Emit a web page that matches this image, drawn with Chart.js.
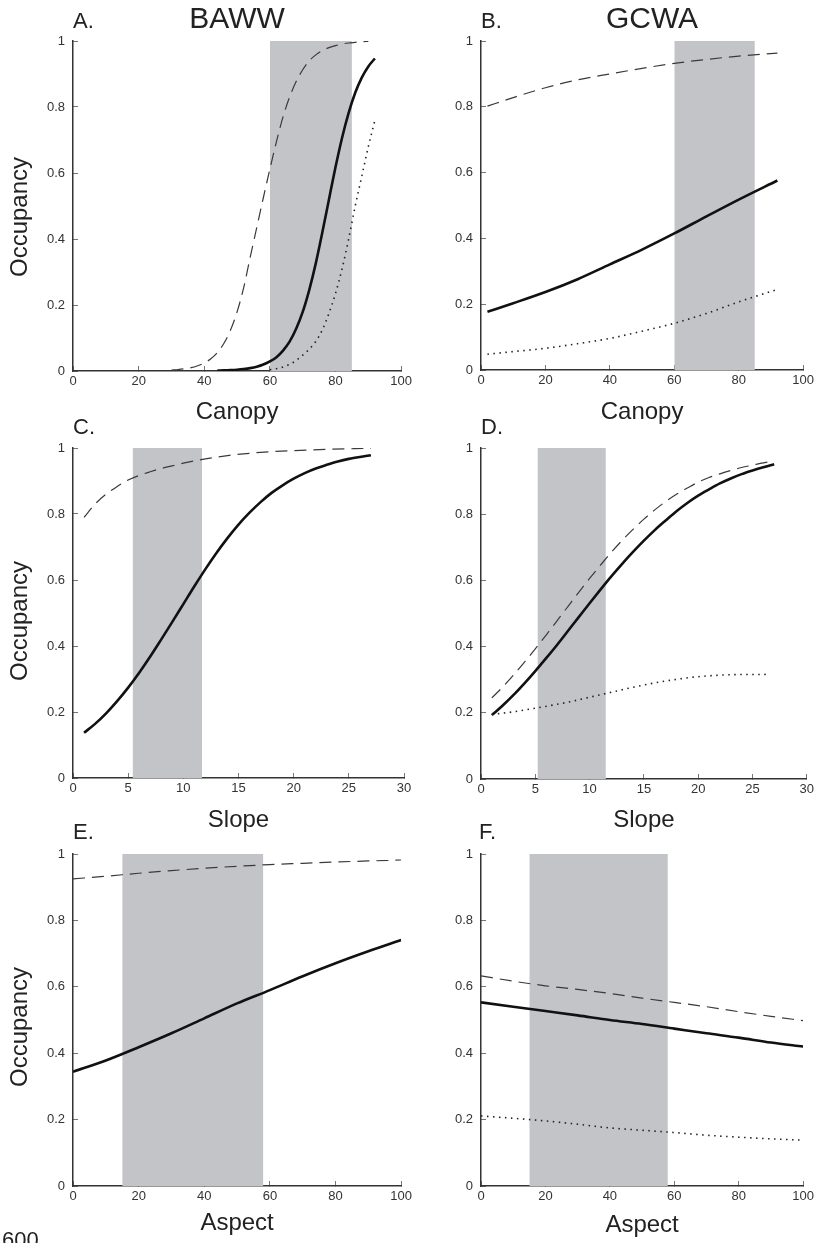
<!DOCTYPE html>
<html><head><meta charset="utf-8">
<script src="https://cdn.jsdelivr.net/npm/chart.js@4.4.1/dist/chart.umd.min.js"></script>
<style>
html,body{margin:0;padding:0;background:#fff}
body{width:822px;height:1243px;overflow:hidden;position:relative;font-family:"Liberation Sans",Arial,Helvetica,sans-serif;color:#222}
canvas{position:absolute}
.lab{position:absolute;line-height:1;white-space:nowrap}
</style></head><body>
<script>
// ---------- tick labels ----------
const occTicks = [0, 0.2, 0.4, 0.6, 0.8, 1];
const occLabels = ['0', '0.2', '0.4', '0.6', '0.8', '1'];
const pctTicks = [0, 20, 40, 60, 80, 100];
const pctLabels = ['0', '20', '40', '60', '80', '100'];
const slopeTicks = [0, 5, 10, 15, 20, 25, 30];
const slopeLabels = ['0', '5', '10', '15', '20', '25', '30'];

// ---------- A. BAWW vs Canopy ----------
const aSolidX = [44,46,48,50,52,54,56,58,60,62,64,66,68,70,72,74,76,78,80,82,84,86,88,90,92];
const aSolid  = [0.0012,0.0018,0.0027,0.004,0.006,0.0088,0.013,0.0195,0.029,0.042,0.062,0.089,0.128,0.179,0.246,0.327,0.421,0.52,0.618,0.707,0.782,0.843,0.889,0.923,0.947];
const aDashX = [30,32,34,36,38,40,42,44,46,48,50,52,54,56,58,60,62,64,66,68,70,72,74,76,78,80,82,84,86,88,90];
const aDash  = [0.003,0.0044,0.0067,0.010,0.016,0.024,0.037,0.056,0.084,0.124,0.179,0.252,0.345,0.435,0.525,0.612,0.695,0.77,0.83,0.877,0.913,0.94,0.958,0.971,0.98,0.986,0.991,0.994,0.996,0.998,0.999];
const aDotX = [60,62,64,66,68,70,72,74,76,78,80,82,84,86,88,90,92];
const aDot  = [0.004,0.007,0.012,0.02,0.032,0.048,0.066,0.09,0.125,0.175,0.235,0.31,0.40,0.50,0.59,0.68,0.76];
const aShade = [60, 85];

// ---------- B. GCWA vs Canopy ----------
const bX = [2,10,20,30,40,50,60,70,80,92];
const bSolid = [0.177,0.203,0.237,0.276,0.321,0.366,0.415,0.467,0.518,0.576];
const bDash  = [0.802,0.828,0.858,0.882,0.90,0.917,0.932,0.944,0.954,0.963];
const bDot   = [0.048,0.056,0.066,0.08,0.096,0.118,0.142,0.172,0.207,0.245];
const bShade = [60, 85];

// ---------- C. BAWW vs Slope ----------
const cSolidX = [1,2,3,4,5,6,7,8,9,10,11,12,13,14,15,16,17,18,19,20,21,22,23,24,25,26,27];
const cSolid  = [0.137,0.164,0.196,0.233,0.274,0.319,0.368,0.42,0.473,0.527,0.581,0.633,0.682,0.727,0.768,0.804,0.836,0.864,0.887,0.907,0.924,0.938,0.949,0.959,0.967,0.973,0.978];
const cDashX = [1,2,3,4,5,6,7,8,9,10,12,14,16,18,20,23,27];
const cDash  = [0.79,0.83,0.86,0.883,0.903,0.917,0.928,0.938,0.946,0.954,0.967,0.977,0.984,0.989,0.992,0.996,0.999];
const cShade = [5.4, 11.7];

// ---------- D. GCWA vs Slope ----------
const dX = [1,2,3,4,5,6,7,8,9,10,11,12,13,14,15,16,17,18,19,20,21,22,23,24,25,26,27];
const dSolid = [0.193,0.222,0.254,0.289,0.326,0.365,0.405,0.447,0.489,0.531,0.572,0.612,0.65,0.686,0.72,0.752,0.781,0.809,0.834,0.856,0.875,0.893,0.908,0.921,0.932,0.942,0.951];
const dDash  = [0.245,0.278,0.314,0.353,0.393,0.435,0.478,0.521,0.564,0.606,0.646,0.685,0.721,0.754,0.785,0.813,0.838,0.86,0.879,0.897,0.911,0.922,0.932,0.941,0.948,0.955,0.961];
const dDotX = [1,3,5,8,10,12,15,18,20,23,26.5];
const dDot  = [0.195,0.203,0.214,0.232,0.247,0.262,0.284,0.301,0.309,0.315,0.316];
const dShade = [5.2, 11.5];

// ---------- E. BAWW vs Aspect ----------
const eX = [0,10,20,30,40,50,60,70,80,90,100];
const eSolid = [0.344,0.378,0.418,0.46,0.505,0.55,0.59,0.632,0.671,0.707,0.741];
const eDash  = [0.925,0.933,0.942,0.95,0.957,0.963,0.968,0.972,0.976,0.979,0.982];
const eShade = [15, 58];

// ---------- F. GCWA vs Aspect ----------
const fX = [0,10,20,30,40,50,60,70,80,90,100];
const fSolid = [0.553,0.54,0.527,0.514,0.50,0.488,0.474,0.46,0.447,0.432,0.42];
const fDash  = [0.633,0.617,0.603,0.592,0.58,0.566,0.553,0.54,0.525,0.511,0.498];
const fDot   = [0.211,0.204,0.196,0.186,0.175,0.168,0.161,0.153,0.147,0.142,0.138];
const fShade = [15, 58];

// ---------- drawing ----------
const FONT = '"Liberation Sans", Arial, Helvetica, sans-serif';
const SOLID = {color:'#111', w:2.6, dash:[]};
const DASH  = {color:'#3a3a3a', w:1.2, dash:[12,7]};
const DOT   = {color:'#222', w:1.6, dash:[1.5,4.5]};

function pts(xs, ys){ return xs.map((x,i)=>({x:x, y:ys[i]})); }

function panel(area, left, width, xH, xMax, xTicks, xLabels, xTitle, shade, series){
  const top = area.t - 41;
  const height = area.b - top + xH + 5;
  const c = document.createElement('canvas');
  c.width = width; c.height = height;
  c.style.left = left + 'px'; c.style.top = top + 'px';
  c.style.width = width + 'px'; c.style.height = height + 'px';
  document.body.appendChild(c);
  const datasets = series.map(s => ({
    data: pts(s.x, s.y), borderColor: s.st.color, borderWidth: s.st.w, borderDash: s.st.dash,
    borderCapStyle: 'butt', pointRadius: 0, fill: false, cubicInterpolationMode: 'monotone', order: 1
  }));
  datasets.push({
    data: [{x:shade[0], y:1}, {x:shade[1], y:1}], borderWidth: 0, borderColor: 'rgba(0,0,0,0)',
    pointRadius: 0, fill: 'origin', backgroundColor: '#c3c4c8', order: 10
  });
  const tickFont = {family: FONT, size: 13};
  new Chart(c, {
    type: 'line',
    data: {datasets: datasets},
    options: {
      responsive: false, animation: false, devicePixelRatio: 1,
      layout: {padding: {left: 0, top: 41, right: left + width - area.r, bottom: 5}},
      plugins: {legend: {display: false}, tooltip: {enabled: false}},
      scales: {
        x: {
          type: 'linear', min: 0, max: xMax, z: 1,
          afterFit: s => { s.height = xH; },
          afterBuildTicks: s => { s.ticks = xTicks.map(v => ({value: v})); },
          ticks: {autoSkip: false, maxRotation: 0, padding: 8, color: '#333', font: tickFont,
                  callback: (v, i) => xLabels[i]},
          grid: {drawOnChartArea: false, drawTicks: true, tickLength: -5, tickColor: '#777', tickWidth: 1, color: '#777'},
          border: {display: true, color: '#333', width: 1.5},
          title: {display: true, text: xTitle, color: '#222', font: {family: FONT, size: 24}, padding: 0}
        },
        y: {
          type: 'linear', min: 0, max: 1, z: 1,
          afterFit: s => { s.width = area.l - left; },
          afterBuildTicks: s => { s.ticks = occTicks.map(v => ({value: v})); },
          ticks: {autoSkip: false, padding: 13, color: '#333', font: tickFont,
                  callback: (v, i) => occLabels[i]},
          grid: {drawOnChartArea: false, drawTicks: true, tickLength: -5, tickColor: '#777', tickWidth: 1, color: '#777'},
          border: {display: true, color: '#333', width: 1.5}
        }
      }
    }
  });
}

panel({l:73,r:404,t:41,b:371}, 0, 420, 56, 100, pctTicks, pctLabels, 'Canopy', aShade,
  [{x:aDashX, y:aDash, st:DASH}, {x:aDotX, y:aDot, st:DOT}, {x:aSolidX, y:aSolid, st:SOLID}]);
panel({l:481,r:810,t:41,b:370}, 411, 411, 57, 100, pctTicks, pctLabels, 'Canopy', bShade,
  [{x:bX, y:bDash, st:DASH}, {x:bX, y:bDot, st:DOT}, {x:bX, y:bSolid, st:SOLID}]);
panel({l:73,r:404,t:448,b:778}, 0, 420, 57, 30, slopeTicks, slopeLabels, 'Slope', cShade,
  [{x:cDashX, y:cDash, st:DASH}, {x:cSolidX, y:cSolid, st:SOLID}]);
panel({l:481,r:810,t:448,b:779}, 411, 411, 56, 30, slopeTicks, slopeLabels, 'Slope', dShade,
  [{x:dX, y:dDash, st:DASH}, {x:dDotX, y:dDot, st:DOT}, {x:dX, y:dSolid, st:SOLID}]);
panel({l:73,r:404,t:854,b:1186}, 0, 420, 52, 100, pctTicks, pctLabels, 'Aspect', eShade,
  [{x:eX, y:eDash, st:DASH}, {x:eX, y:eSolid, st:SOLID}]);
panel({l:481,r:811,t:854,b:1186}, 411, 411, 54, 100, pctTicks, pctLabels, 'Aspect', fShade,
  [{x:fX, y:fDash, st:DASH}, {x:fX, y:fDot, st:DOT}, {x:fX, y:fSolid, st:SOLID}]);

// ---------- text labels ----------
function label(text, x, baseline, fs, center){
  const d = document.createElement('div');
  d.className = 'lab';
  d.textContent = text;
  d.style.fontSize = fs + 'px';
  d.style.top = (baseline - 0.8465 * fs) + 'px';
  d.style.left = x + 'px';
  if (center) d.style.transform = 'translateX(-50%)';
  document.body.appendChild(d);
}
function vlabel(text, cx, cy, fs){
  const d = document.createElement('div');
  d.className = 'lab';
  d.textContent = text;
  d.style.fontSize = fs + 'px';
  d.style.left = cx + 'px';
  d.style.top = cy + 'px';
  d.style.transform = 'translate(-50%,-50%) rotate(-90deg)';
  document.body.appendChild(d);
}
label('A.', 73, 29, 22, false);
label('BAWW', 237, 28.3, 30, true);
label('B.', 481, 29, 22, false);
label('GCWA', 652, 28.3, 30, true);
label('C.', 73, 435, 22, false);
label('D.', 481, 434.3, 22, false);
label('E.', 73, 839.3, 22, false);
label('F.', 479, 840, 22, false);
label('600', 2, 1247.5, 22, false);
vlabel('Occupancy', 19, 217, 24);
vlabel('Occupancy', 19, 621, 24);
vlabel('Occupancy', 19, 1027, 24);
</script>
</body></html>
